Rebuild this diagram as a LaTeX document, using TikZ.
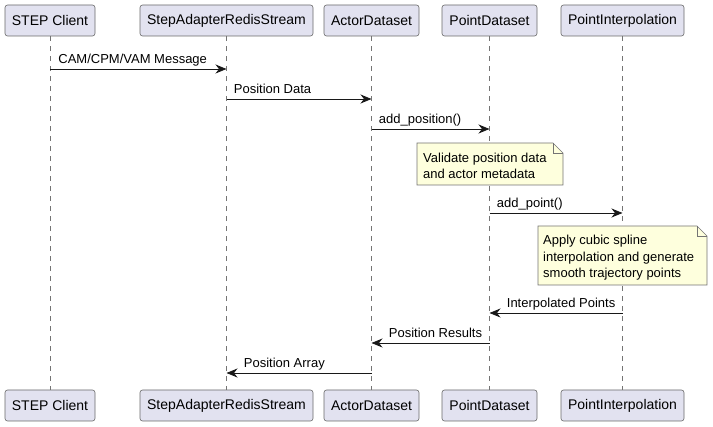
\documentclass[tikz,border=0pt]{standalone}
\usepackage{fontspec}
\setmainfont{Liberation Sans}
\usetikzlibrary{arrows.meta}
\usetikzlibrary{positioning}

\definecolor{partfill}{HTML}{E2E2F0}
\definecolor{notefill}{HTML}{FEFFDD}
\definecolor{umlline}{HTML}{181818}

\tikzset{
  participant/.style={draw=umlline!65,fill=partfill,rounded corners=2.5pt,minimum height=31,inner xsep=0,line width=0.6pt,font=\fontsize{14}{16}\selectfont},
  lifeline/.style={draw=umlline!60,line width=0.5pt,dash pattern=on 5pt off 5pt},
  msg/.style={draw=umlline,line width=0.8pt,-{Stealth[length=11pt,width=9pt,inset=3.5pt]}},
  msglabel/.style={font=\fontsize{13}{15}\selectfont,inner sep=0pt,anchor=base west},
  notebox/.style={draw=umlline!60,fill=notefill,line width=0.6pt,line join=miter},
  notetext/.style={font=\fontsize{13}{16.5}\selectfont,align=left,inner sep=0pt,anchor=north west}
}

\begin{document}
\begin{tikzpicture}[x=1pt,y=-1pt]
\useasboundingbox (0,0) rectangle (713,427);

% participants, top and bottom, with their lifelines
\foreach \id/\x/\w/\txt in {client/50/90/STEP Client,adapter/226.5/173/StepAdapterRedisStream,actor/371.5/95/ActorDataset,point/489.5/95/PointDataset,interp/622.5/123/PointInterpolation}{
\node[participant,minimum width=\w] (\id-top) at (\x,20.5) {\txt};
\node[participant,minimum width=\w] (\id-bot) at (\x,405.5) {\txt};
\draw[lifeline] (\id-top) -- (\id-bot);
}

% messages
\draw[msg] (client-top |- 0,69) -- (adapter-top |- 0,69) node[msglabel,pos=0,xshift=8,yshift=5] {CAM/CPM/VAM Message};
\draw[msg] (adapter-top |- 0,99) -- (actor-top |- 0,99) node[msglabel,pos=0,xshift=7,yshift=5] {Position Data};
\draw[msg] (actor-top |- 0,129) -- (point-top |- 0,129) node[msglabel,pos=0,xshift=7,yshift=5] {add\_position()};

\draw[notebox] (417,143) -- (553,143) -- (563,153) -- (563,185) -- (417,185) -- cycle;
\draw[notebox,fill=none] (553,143) -- (553,153) -- (563,153);
\node[notetext] (validate) at (423,152.6) {Validate position data\\and actor metadata};

\draw[msg] (point-top |- 0,213) -- (interp-top |- 0,213) node[msglabel,pos=0,xshift=7,yshift=5] {add\_point()};

\draw[notebox] (538,226) -- (697,226) -- (707,236) -- (707,285) -- (538,285) -- cycle;
\draw[notebox,fill=none] (697,226) -- (697,236) -- (707,236);
\node[notetext] (spline) at (543,235.1) {Apply cubic spline\\interpolation and generate\\smooth trajectory points};

\draw[msg] (interp-top |- 0,313) -- (point-top |- 0,313) node[msglabel,pos=1,xshift=17,yshift=5] {Interpolated Points};
\draw[msg] (point-top |- 0,343) -- (actor-top |- 0,343) node[msglabel,pos=1,xshift=17,yshift=5] {Position Results};
\draw[msg] (actor-top |- 0,373) -- (adapter-top |- 0,373) node[msglabel,pos=1,xshift=17,yshift=5] {Position Array};

\end{tikzpicture}
\end{document}
